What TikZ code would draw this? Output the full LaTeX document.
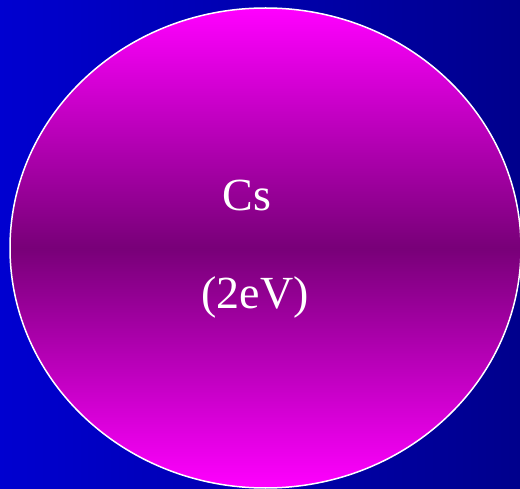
\documentclass[tikz,border=0pt]{standalone}
\usepackage{fontspec}
\setmainfont{Liberation Serif}
\definecolor{bgleft}{RGB}{0,0,208}
\definecolor{bgright}{RGB}{0,0,140}
\definecolor{magtop}{RGB}{255,0,255}
\definecolor{magmid}{RGB}{120,0,120}
\tikzset{
  bg/.style={left color=bgleft,right color=bgright,draw=none},
  ball/.style={draw=white,line width=1.5pt,top color=magtop,bottom color=magtop,middle color=magmid},
  label/.style={text=white,font=\fontsize{46}{50}\selectfont,inner sep=0pt,anchor=base}
}
\begin{document}
\begin{tikzpicture}[x=1pt,y=-1pt]
\useasboundingbox (0,0) rectangle (520,489);
\shade[bg] (0,0) rectangle (520,489);
\begin{scope}
\clip (0,0) rectangle (520,489);
\shade[ball] (265.5,248) ellipse[x radius=255.5,y radius=240];
\end{scope}
\node[label] (cs) at (247,211) {Cs};
\node[label] (ev) at (255,309) {(2eV)};
\end{tikzpicture}
\end{document}
